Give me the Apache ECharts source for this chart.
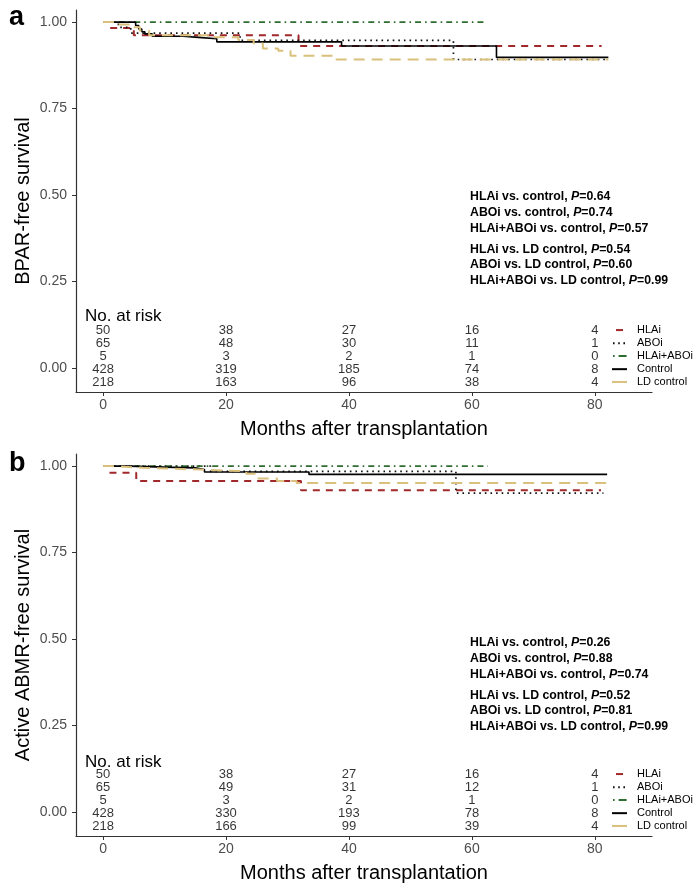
<!DOCTYPE html>
<html><head><meta charset="utf-8">
<script src="https://cdn.jsdelivr.net/npm/echarts@6/dist/echarts.min.js"></script>
<style>html,body{margin:0;padding:0;background:#fff}.p{width:700px;height:444px}</style>
</head><body><div id="pa" class="p"></div><div id="pb" class="p"></div>
<script>
// ---------- DATA ----------
const groups = ['HLAi', 'ABOi', 'HLAi+ABOi', 'Control', 'LD control'];
const xTicks = [0, 20, 40, 60, 80];
const yTicks = [0, 0.25, 0.5, 0.75, 1];
const riskTimes = [0, 20, 40, 60, 80];

// Panel a: BPAR-free survival  [month, survival]
const aHLAi    = [[0,1],[1,0.983],[5,0.962],[31.8,0.931],[81.1,0.931]];
const aABOi    = [[0,1],[2.5,0.985],[4.5,0.968],[22.3,0.947],[57,0.892],[81.9,0.892]];
const aHLAiABOi= [[0,1],[62.5,1]];
const aControl = [[0,1],[5.3,0.99],[5.8,0.98],[6.3,0.972],[6.8,0.966],[8,0.959],[13,0.956],[15.5,0.952],[18.5,0.943],[38.8,0.931],[64,0.898],[82.2,0.898]];
const aLD      = [[0,1],[2,0.993],[4.5,0.985],[6,0.975],[7.5,0.962],[17.5,0.956],[22,0.948],[24.5,0.938],[26,0.924],[28.5,0.917],[30.5,0.903],[37.8,0.892],[82.2,0.892]];

// Panel b: Active ABMR-free survival
const bHLAi    = [[0,1],[1,0.981],[5.4,0.957],[32.2,0.93],[81,0.93]];
const bABOi    = [[0,1],[17.5,0.985],[57.4,0.922],[81.4,0.922]];
const bHLAiABOi= [[0,1],[62.6,1]];
const bControl = [[0,1],[4,0.997],[10,0.995],[15,0.99],[16.5,0.983],[33.5,0.976],[82,0.976]];
const bLD      = [[0,1],[1.5,0.995],[6.5,0.99],[15.8,0.985],[23.3,0.978],[25,0.964],[28.3,0.957],[31.5,0.951],[82.3,0.951]];

// Number at risk
const aRiskHLAi = [50,38,27,16,4];
const aRiskABOi = [65,48,30,11,1];
const aRiskHLAiABOi = [5,3,2,1,0];
const aRiskControl = [428,319,185,74,8];
const aRiskLD = [218,163,96,38,4];
const bRiskHLAi = [50,38,27,16,4];
const bRiskABOi = [65,49,31,12,1];
const bRiskHLAiABOi = [5,3,2,1,0];
const bRiskControl = [428,330,193,78,8];
const bRiskLD = [218,166,99,39,4];

// P-value annotations
const aPLabels = ['HLAi vs. control, ','ABOi vs. control, ','HLAi+ABOi vs. control, ','HLAi vs. LD control, ','ABOi vs. LD control, ','HLAi+ABOi vs. LD control, '];
const aPValues = ['0.64','0.74','0.57','0.54','0.60','0.99'];
const bPLabels = aPLabels;
const bPValues = ['0.26','0.88','0.74','0.52','0.81','0.99'];

// ---------- STYLE / LAYOUT ----------
const styles = {
  'HLAi':       {color:'#a1282b', width:2,   type:[7,6]},
  'ABOi':       {color:'#111111', width:1.7, type:[1.6,4]},
  'HLAi+ABOi':  {color:'#2f6c2f', width:1.8, type:[6,4,1.6,4]},
  'Control':    {color:'#000000', width:1.6, type:'solid'},
  'LD control': {color:'#d9c07c', width:2,   type:[11,7]}
};
const legendSamples = {
  'HLAi':       {x1:616, x2:623, dash:null},
  'ABOi':       {x1:613, x2:627, dash:[1.6,3.6]},
  'HLAi+ABOi':  {x1:613, x2:627, dash:[1.6,4,8,4]},
  'Control':    {x1:612, x2:627, dash:null},
  'LD control': {x1:612, x2:627, dash:null}
};
const riskRowY = [0.11, 0.072, 0.035, -0.003, -0.04];
const pLineTop = [197, 213, 229, 250, 265, 281];
const FONT = 'Liberation Sans, Arial, sans-serif';
const NARROW = 'Liberation Sans Narrow, Arial Narrow, Liberation Sans, sans-serif';

function build(id, curves, risks, pLabels, pValues, yTitle, letter, dy) {
  const chart = echarts.init(document.getElementById(id), null, {renderer:'canvas'});
  const series = groups.map((g, i) => ({
    name: g, type: 'line', step: 'end', symbol: 'none', showSymbol: false,
    data: curves[i], silent: true, animation: false,
    lineStyle: {color: styles[g].color, width: styles[g].width, type: styles[g].type},
    itemStyle: {color: styles[g].color}
  }));
  const riskData = [];
  groups.forEach((g, i) => risks[i].forEach((n, j) => {
    riskData.push({value: [riskTimes[j], riskRowY[i]], label: {formatter: String(n)}});
  }));
  series.push({
    type: 'scatter', symbolSize: 0, data: riskData, silent: true, animation: false,
    label: {show: true, position: 'inside', color: '#000', fontSize: 13, fontFamily: NARROW}
  });
  chart.setOption({
    animation: false,
    backgroundColor: '#fff',
    grid: {left: 76, right: 48, top: 10, bottom: 52},
    xAxis: {
      type: 'value', min: -4.4, max: 89.3,
      name: 'Months after transplantation', nameLocation: 'middle', nameGap: 27,
      nameTextStyle: {fontSize: 20, fontFamily: FONT, color: '#000'},
      axisLine: {show: true, onZero: false, lineStyle: {color: '#333', width: 1.2}},
      axisTick: {show: true, length: 4, customValues: xTicks, lineStyle: {color: '#333'}},
      axisLabel: {customValues: xTicks, fontSize: 14, fontFamily: NARROW, color: '#4d4d4d', margin: 6},
      splitLine: {show: false}
    },
    yAxis: {
      type: 'value', min: -0.069, max: 1.035,
      name: yTitle, nameLocation: 'middle', nameGap: 43, nameMoveOverlap: false,
      nameTextStyle: {fontSize: 20, fontFamily: FONT, color: '#000'},
      axisLine: {show: true, onZero: false, lineStyle: {color: '#333', width: 1.2}},
      axisTick: {show: true, length: 4, customValues: yTicks, lineStyle: {color: '#333'}},
      axisLabel: {customValues: yTicks, fontSize: 14, fontFamily: NARROW, color: '#4d4d4d', margin: 9,
        formatter: v => v.toFixed(2)},
      splitLine: {show: false}
    },
    series: series
  });
  const graphics = [
    {type:'text', left: 9, top: 4 + dy, style:{text: letter, font: 'bold 27px ' + FONT, fill:'#000'}},
    {type:'text', x: 85, y: 316 + dy, style:{text:'No. at risk', font:'17px ' + FONT, fill:'#000', verticalAlign:'middle'}}
  ];
  pLabels.forEach((t, k) => {
    graphics.push({type:'text', x: 470, y: pLineTop[k] + dy, style:{
      text: '{b|' + t + '}{i|P}{b|=' + pValues[k] + '}',
      verticalAlign: 'middle',
      rich: {
        b: {font: 'bold 12.3px ' + FONT, fill: '#000'},
        i: {font: 'italic bold 12.3px ' + FONT, fill: '#000'}
      }
    }});
  });
  groups.forEach((g, i) => {
    const yp = chart.convertToPixel({gridIndex: 0}, [0, riskRowY[i]])[1];
    const s = legendSamples[g];
    graphics.push({type:'line', silent:true, shape:{x1:s.x1, y1:yp, x2:s.x2, y2:yp},
      style:{stroke: styles[g].color, lineWidth: 2, lineDash: s.dash}});
    graphics.push({type:'text', x: 637, y: yp, style:{text: g, font: '11px ' + NARROW, fill:'#000', verticalAlign:'middle'}});
  });
  chart.setOption({graphic: graphics});
}

build('pa', [aHLAi, aABOi, aHLAiABOi, aControl, aLD],
  [aRiskHLAi, aRiskABOi, aRiskHLAiABOi, aRiskControl, aRiskLD],
  aPLabels, aPValues, 'BPAR-free survival', 'a', 0);
build('pb', [bHLAi, bABOi, bHLAiABOi, bControl, bLD],
  [bRiskHLAi, bRiskABOi, bRiskHLAiABOi, bRiskControl, bRiskLD],
  bPLabels, bPValues, 'Active ABMR-free survival', 'b', 2);
</script></body></html>
